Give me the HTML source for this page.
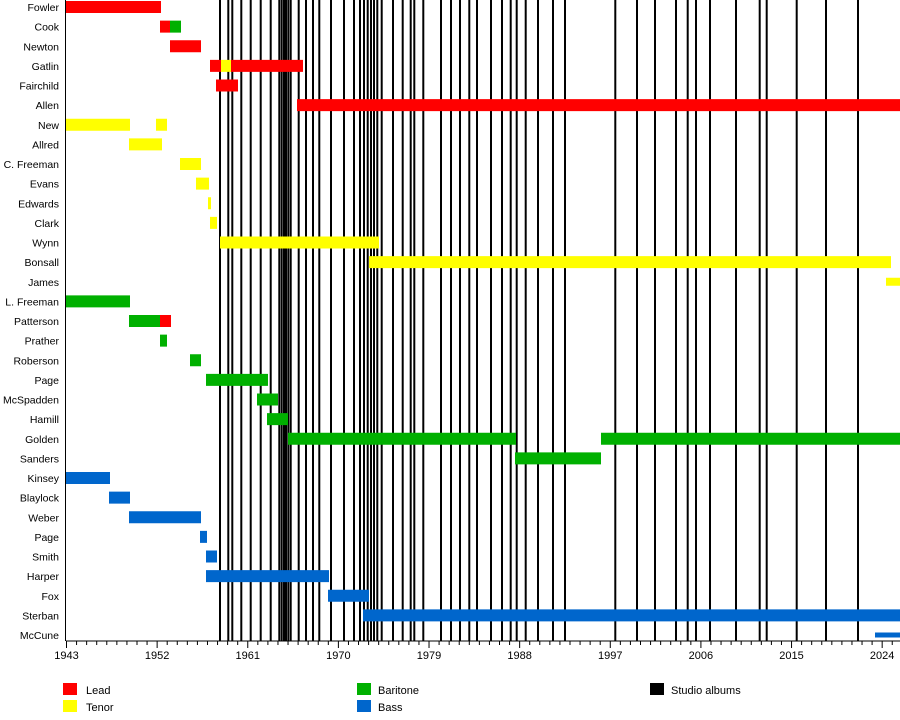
<!DOCTYPE html>
<html><head><style>body{margin:0;background:#fff}svg{display:block;font-family:"Liberation Sans",sans-serif}</style></head>
<body>
<svg width="900" height="720" xmlns="http://www.w3.org/2000/svg">
<line x1="65.5" y1="0" x2="65.5" y2="641" stroke="#000" stroke-width="1"/>
<g stroke="#000" stroke-width="2" id="vl"></g>
<g id="bars"></g>
<g id="labels" font-size="10.5" text-anchor="end" fill="#000"></g>
<line x1="66" y1="641" x2="900" y2="641" stroke="#000" stroke-width="1"/>
<g id="ticks" stroke="#000" stroke-width="1"></g>
<g id="years" font-size="11" text-anchor="middle"></g>
<g font-size="11">
<rect x="63" y="683" width="14" height="12" fill="#ff0000"/><text x="86" y="694">Lead</text>
<rect x="63" y="700" width="14" height="12" fill="#ffff00"/><text x="86" y="711">Tenor</text>
<rect x="357" y="683" width="14" height="12" fill="#00b000"/><text x="378" y="694">Baritone</text>
<rect x="357" y="700" width="14" height="12" fill="#0066cc"/><text x="378" y="711">Bass</text>
<rect x="650" y="683" width="14" height="12" fill="#000"/><text x="671" y="694">Studio albums</text>
</g>
<script>
var ns="http://www.w3.org/2000/svg";
function el(p,t,a,txt){var e=document.createElementNS(ns,t);for(var k in a)e.setAttribute(k,a[k]);if(txt)e.textContent=txt;document.getElementById(p).appendChild(e);}
[220,228.3,232.3,241.3,250.7,260.7,270.7,279.3,281.7,284,286,288.3,290.7,298.7,306,313,319.3,331,344,354,360,364,367.7,371,374,377.3,381.7,393,402.7,410.7,414.3,423.3,441,451,460,469.3,477,491,502,510.7,516.7,525.7,538,553,565,615.3,637,655,676,687.7,696,710,736,759.7,766.7,796.7,826,858].forEach(function(x){el("vl","line",{x1:x,y1:0,x2:x,y2:641});});
var R="#ff0000",Y="#ffff00",G="#00b000",B="#0066cc";
var rows=[["Fowler",[[66,161,R]]],["Cook",[[160,170,R],[170,181,G]]],["Newton",[[170,201,R]]],["Gatlin",[[210,221,R],[221,231,Y],[231,303,R]]],["Fairchild",[[216,238,R]]],["Allen",[[297,900,R]]],["New",[[66,130,Y],[156,167,Y]]],["Allred",[[129,162,Y]]],["C. Freeman",[[180,201,Y]]],["Evans",[[196,209,Y]]],["Edwards",[[208,211,Y]]],["Clark",[[210,217,Y]]],["Wynn",[[220,379,Y]]],["Bonsall",[[369,891,Y]]],["James",[[886,900,Y]]],["L. Freeman",[[66,130,G]]],["Patterson",[[129,160,G],[160,171,R]]],["Prather",[[160,167,G]]],["Roberson",[[190,201,G]]],["Page",[[206,268,G]]],["McSpadden",[[257,278,G]]],["Hamill",[[267,288,G]]],["Golden",[[288,516,G],[601,900,G]]],["Sanders",[[515,601,G]]],["Kinsey",[[66,110,B]]],["Blaylock",[[109,130,B]]],["Weber",[[129,201,B]]],["Page",[[200,207,B]]],["Smith",[[206,217,B]]],["Harper",[[206,329,B]]],["Fox",[[328,369,B]]],["Sterban",[[363,900,B]]],["McCune",[[875,900,B]]]];
rows.forEach(function(r,i){var c=7+i*19.625;el("labels","text",{x:59,y:c+4},r[0]);
r[1].forEach(function(b){var h=(r[0]=="McCune"||r[0]=="James")?(r[0]=="McCune"?5:8):12;el("bars","rect",{x:b[0],y:c-h/2,width:b[1]-b[0],height:h,fill:b[2]});});});
for(var y=1943;y<=2025;y++){var x=66.5+10.07*(y-1943);var maj=(y-1943)%9==0;el("ticks","line",{x1:x,y1:641,x2:x,y2:maj?648:645});if(maj)el("years","text",{x:x,y:659},""+y);}
</script>
</svg>
</body></html>
